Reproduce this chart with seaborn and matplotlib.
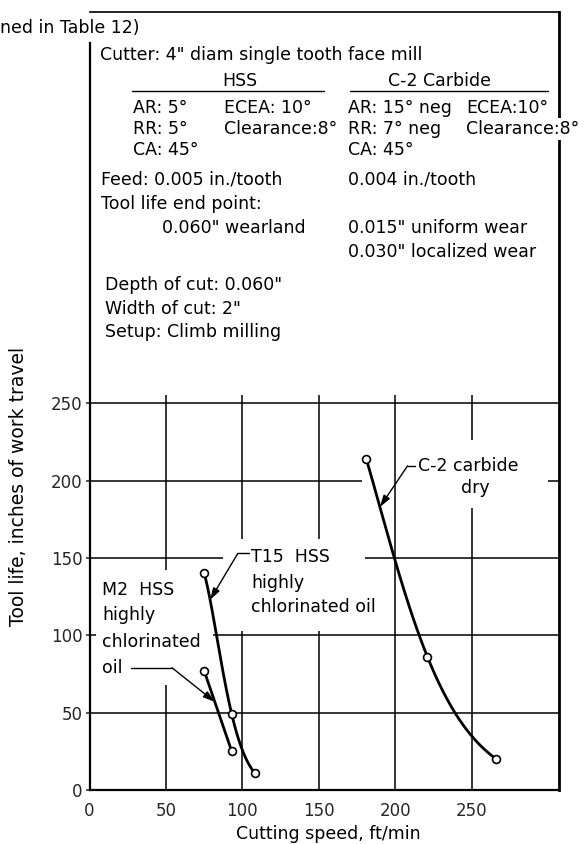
import numpy as np
import matplotlib
matplotlib.use("Agg")
import matplotlib.pyplot as plt
from matplotlib.lines import Line2D
import seaborn as sns

# Tool life (inches of work travel) against cutting speed (ft/min)
m2_speed = [75, 93]
m2_life = [77, 25]
t15_speed = [75, 93, 108]
t15_life = [140, 49, 11]
c2_speed = [181, 221, 266]
c2_life = [214, 86, 20]

x_ticks = [0, 50, 100, 150, 200, 250]
y_ticks = [0, 50, 100, 150, 200, 250]

sns.set_style("white")
plt.rcParams["font.family"] = ["DejaVu Sans"]
plt.rcParams["text.color"] = "black"

W, H = 585, 844
FS = 12.5
fig = plt.figure(figsize=(W / 100, H / 100), dpi=100)
ax = fig.add_axes([89.5 / W, (H - 790) / H, (559 - 89.5) / W, (790 - 12) / H])
ax.set_xlim(0, 307)
ax.set_ylim(0, 503)


def smooth_curve(xs, ys, n=200):
    """Smooth power-law style curve through the measured points (log-log fit);
    two points are simply joined by a straight line."""
    xx = np.linspace(xs[0], xs[-1], n)
    if len(xs) < 3:
        return xx, np.interp(xx, xs, ys)
    coef = np.polyfit(np.log(xs), np.log(ys), 2)
    return xx, np.exp(np.polyval(coef, np.log(xx)))


def x_on_curve(xs, ys, y):
    xx, yy = smooth_curve(xs, ys)
    return float(np.interp(y, yy[::-1], xx[::-1]))


# grid drawn as broken segments so labels sit in clear space
vgrid = [(50, 0, 68), (50, 142, 255.5), (100, 0, 103), (100, 162, 255.5),
         (150, 0, 103), (150, 162, 255.5), (200, 0, 255.5),
         (250, 0, 182), (250, 226, 255.5)]
hgrid = [(250, 0, 307), (200, 0, 178), (200, 300, 307), (150, 0, 87.5),
         (150, 180, 307), (100, 0, 4), (100, 81, 307), (50, 0, 307)]
for x, y0, y1 in vgrid:
    ax.vlines(x, y0, y1, color="black", lw=1.1, zorder=1)
for y, x0, x1 in hgrid:
    ax.hlines(y, x0, x1, color="black", lw=1.1, zorder=1)

for xs, ys in [(m2_speed, m2_life), (t15_speed, t15_life), (c2_speed, c2_life)]:
    xx, yy = smooth_curve(xs, ys)
    sns.lineplot(x=xx, y=yy, ax=ax, color="black", lw=2.0, sort=False,
                 estimator=None, zorder=3)
    sns.scatterplot(x=xs, y=ys, ax=ax, marker="o", s=32, facecolor="white",
                    edgecolor="black", linewidth=1.2, zorder=5)

# spines
for side in ["left", "bottom", "top", "right"]:
    ax.spines[side].set_color("black")
ax.spines["left"].set_linewidth(1.6)
ax.spines["bottom"].set_linewidth(1.6)
ax.spines["top"].set_linewidth(1.2)
ax.spines["right"].set_linewidth(2.0)
ax.spines["left"].set_bounds(0, 483)

ax.set_xticks(x_ticks)
ax.set_yticks(y_ticks)
ax.tick_params(axis="x", length=0, pad=9, labelsize=12)
ax.tick_params(axis="y", length=3, width=1.1, pad=2, labelsize=12, left=True)
ax.set_xlabel("")
ax.set_ylabel("")

# leader lines with arrows
lw_lead = 1.0
arrow = dict(arrowstyle="-|>,head_length=0.7,head_width=0.22", color="black",
             lw=lw_lead, shrinkA=0, shrinkB=0)

# T15 label
t15_tip_y = 123
ax.text(105.7, 150.7, "T15  HSS", fontsize=FS, ha="left", va="center")
ax.text(105.7, 134.0, "highly", fontsize=FS, ha="left", va="center")
ax.text(105.7, 118.4, "chlorinated oil", fontsize=FS, ha="left", va="center")
ax.plot([97, 104], [153, 153], color="black", lw=lw_lead)
ax.annotate("", xy=(x_on_curve(t15_speed, t15_life, t15_tip_y), t15_tip_y),
            xytext=(97, 153), arrowprops=arrow)

# M2 label
m2_tip_y = 57
ax.text(8.2, 129.4, "M2  HSS", fontsize=FS, ha="left", va="center")
ax.text(8.2, 113.2, "highly", fontsize=FS, ha="left", va="center")
ax.text(8.2, 96.0, "chlorinated", fontsize=FS, ha="left", va="center")
ax.text(8.2, 79.0, "oil", fontsize=FS, ha="left", va="center")
ax.plot([27, 54], [79, 79], color="black", lw=lw_lead)
ax.annotate("", xy=(x_on_curve(m2_speed, m2_life, m2_tip_y), m2_tip_y),
            xytext=(54, 79), arrowprops=arrow)

# C-2 label
c2_tip_y = 183
ax.text(214.7, 209.6, "C-2 carbide", fontsize=FS, ha="left", va="center")
ax.text(252.6, 195.3, "dry", fontsize=FS, ha="center", va="center")
ax.plot([208, 213], [209.6, 209.6], color="black", lw=lw_lead)
ax.annotate("", xy=(x_on_curve(c2_speed, c2_life, c2_tip_y), c2_tip_y),
            xytext=(208, 209.6), arrowprops=arrow)


# conditions block above the plot, positioned in figure pixels
def ftext(px, py, s, ha="left", **kw):
    return fig.text(px / W, 1 - py / H, s, ha=ha, va="center", fontsize=FS, **kw)


def fline(x0, x1, py, lw=1.0):
    fig.add_artist(Line2D([x0 / W, x1 / W], [1 - py / H, 1 - py / H],
                          color="black", lw=lw))


ftext(0, 28, "ned in Table 12)")
ftext(100, 55, 'Cutter: 4" diam single tooth face mill')
ftext(240, 81, "HSS", ha="center")
ftext(440, 81, "C-2 Carbide", ha="center")
fline(132, 324, 91)
fline(350, 548, 91)
ftext(133, 108, "AR: 5°")
ftext(224, 108, "ECEA: 10°")
ftext(348, 108, "AR: 15° neg")
ftext(466, 108, "ECEA:10°")
ftext(133, 129, "RR: 5°")
ftext(224, 129, "Clearance:8°")
ftext(348, 129, "RR: 7° neg")
ftext(466, 129, "Clearance:8°",
      bbox=dict(facecolor="white", edgecolor="none", pad=1.5), zorder=10)
ftext(133, 150, "CA: 45°")
ftext(348, 150, "CA: 45°")
ftext(101, 179, "Feed: 0.005 in./tooth")
ftext(348, 179, "0.004 in./tooth")
ftext(101, 204, "Tool life end point:")
ftext(162, 228, '0.060" wearland')
ftext(348, 228, '0.015" uniform wear')
ftext(348, 252, '0.030" localized wear')
ftext(105, 285, 'Depth of cut: 0.060"')
ftext(105, 309, 'Width of cut: 2"')
ftext(105, 332, "Setup: Climb milling")

# axis titles
fig.text(19 / W, 1 - 486 / H, "Tool life, inches of work travel", rotation=90,
         ha="center", va="center", fontsize=13.5)
fig.text(328 / W, 1 - 834 / H, "Cutting speed, ft/min", ha="center",
         va="center", fontsize=FS)

fig.savefig("out.png", dpi=100)
